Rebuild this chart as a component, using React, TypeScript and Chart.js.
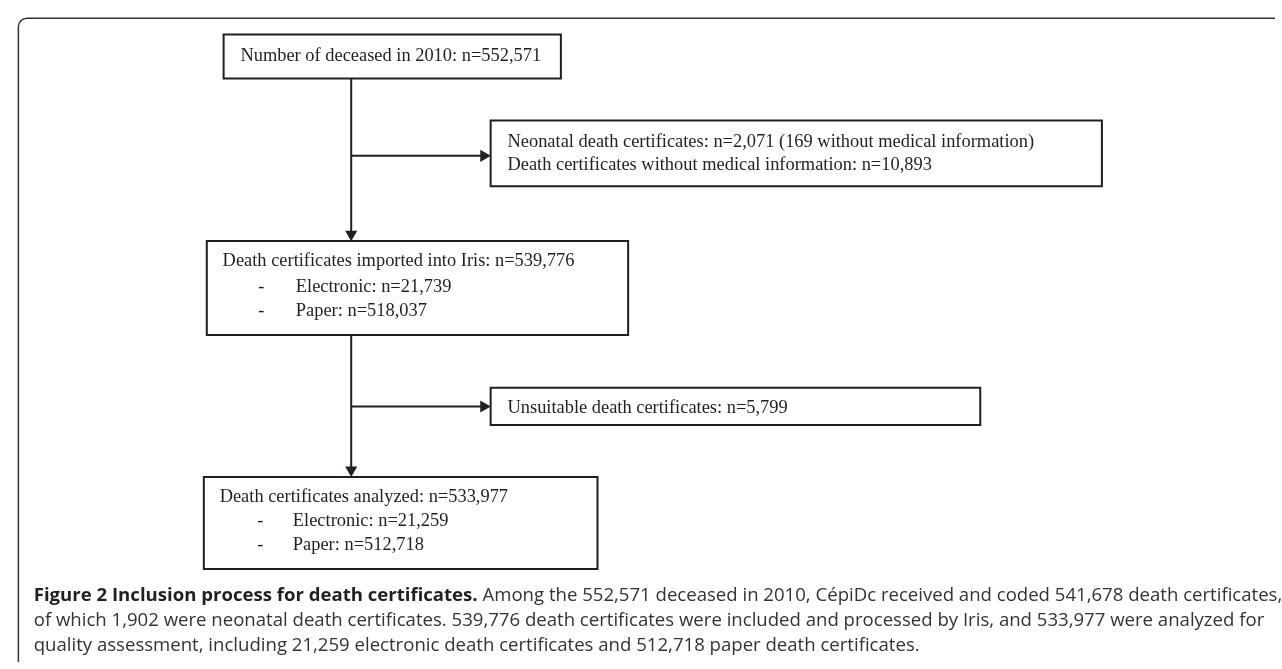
import React, { useEffect, useRef } from 'react';
import { Chart, registerables } from 'chart.js';

Chart.register(...registerables);

// ---------- data ----------
const stepLabels = ['Number of deceased in 2010', 'Death certificates imported into Iris', 'Death certificates analyzed'];
const stepCounts = [552571, 539776, 533977];
const subLabels = ['Electronic', 'Paper'];
const importedSub = [21739, 518037];
const analyzedSub = [21259, 512718];
const neonatalCount = 2071;
const neonatalNoInfo = 169;
const noInfoCount = 10893;
const unsuitableCount = 5799;

const captionBold = 'Figure 2 Inclusion process for death certificates.';
const captionLines = [
  ' Among the 552,571 deceased in 2010, CépiDc received and coded 541,678 death certificates,',
  'of which 1,902 were neonatal death certificates. 539,776 death certificates were included and processed by Iris, and 533,977 were analyzed for',
  'quality assessment, including 21,259 electronic death certificates and 512,718 paper death certificates.',
];

// ---------- layout (page units, mapped through hidden linear scales) ----------
const W = 1282;
const H = 669;
const trunkX = 348;
const boxDeceased = { x0: 219, x1: 560, y0: 28, y1: 73 };
const boxImported = { x0: 202, x1: 628, y0: 239, y1: 335 };
const boxAnalyzed = { x0: 199, x1: 597, y0: 480, y1: 574 };
const boxNeonatal = { x0: 489, x1: 1107, y0: 116, y1: 183 };
const boxUnsuitable = { x0: 489, x1: 984, y0: 389, y1: 427 };
const branchY = [152, 408];
const INK = '#231f20';
const ARROW_R = 7;

const fmt = (n: number) => n.toLocaleString('en-US');

type Rect = { x0: number; x1: number; y0: number; y1: number };
const rectPath = (r: Rect) => [
  { x: r.x0, y: r.y0 },
  { x: r.x1, y: r.y0 },
  { x: r.x1, y: r.y1 },
  { x: r.x0, y: r.y1 },
  { x: r.x0, y: r.y0 },
  { x: r.x1, y: r.y0 },
];

const lineDs = (pts: { x: number; y: number }[]) => ({
  type: 'scatter' as const,
  data: pts,
  showLine: true,
  borderColor: INK,
  borderWidth: 2,
  pointRadius: 0,
  pointHoverRadius: 0,
  fill: false,
  tension: 0,
  borderJoinStyle: 'miter' as const,
});

type TextItem = { text: string; x: number; y: number };

function buildTexts(): TextItem[] {
  const t: TextItem[] = [];
  t.push({ text: `${stepLabels[0]}: n=${fmt(stepCounts[0])}`, x: 236, y: 49 });
  t.push({ text: `Neonatal death certificates: n=${fmt(neonatalCount)} (${neonatalNoInfo} without medical information)`, x: 506, y: 137 });
  t.push({ text: `Death certificates without medical information: n=${fmt(noInfoCount)}`, x: 506, y: 161 });
  t.push({ text: `${stepLabels[1]}: n=${fmt(stepCounts[1])}`, x: 218, y: 259 });
  subLabels.forEach((s, i) => {
    t.push({ text: '-', x: 254, y: 285 + i * 25 });
    t.push({ text: `${s}: n=${fmt(importedSub[i])}`, x: 292, y: 285 + i * 25 });
  });
  t.push({ text: `Unsuitable death certificates: n=${fmt(unsuitableCount)}`, x: 506, y: 409 });
  t.push({ text: `${stepLabels[2]}: n=${fmt(stepCounts[2])}`, x: 215, y: 500 });
  subLabels.forEach((s, i) => {
    t.push({ text: '-', x: 253, y: 524 + i * 25 });
    t.push({ text: `${s}: n=${fmt(analyzedSub[i])}`, x: 289, y: 524 + i * 25 });
  });
  return t;
}

const flowPlugin = {
  id: 'flowText',
  beforeDatasetsDraw(chart: any) {
    const { ctx } = chart;
    const xs = chart.scales.x;
    const ys = chart.scales.y;
    const px = (v: number) => xs.getPixelForValue(v);
    const py = (v: number) => ys.getPixelForValue(v);
    // outer frame (top + left, rounded corner)
    ctx.save();
    ctx.strokeStyle = '#333333';
    ctx.lineWidth = 1.5;
    ctx.beginPath();
    ctx.moveTo(px(11.5), py(H));
    ctx.lineTo(px(11.5), py(20));
    ctx.arcTo(px(11.5), py(11.5), px(20), py(11.5), 8.5);
    ctx.lineTo(px(W), py(11.5));
    ctx.stroke();
    ctx.restore();
  },
  afterDatasetsDraw(chart: any) {
    const { ctx } = chart;
    const xs = chart.scales.x;
    const ys = chart.scales.y;
    const px = (v: number) => xs.getPixelForValue(v);
    const py = (v: number) => ys.getPixelForValue(v);
    ctx.save();
    // box texts
    const serifRef = `${stepLabels[0]}: n=${fmt(stepCounts[0])}`;
    ctx.font = '17px "Liberation Serif"';
    const wRef = ctx.measureText(serifRef).width;
    const serifSize = (17 * 301) / wRef;
    ctx.font = `${serifSize.toFixed(2)}px "Liberation Serif"`;
    ctx.fillStyle = INK;
    ctx.textBaseline = 'middle';
    ctx.textAlign = 'left';
    buildTexts().forEach((it) => ctx.fillText(it.text, px(it.x), py(it.y) + 1));

    // caption
    const fam = '"Open Sans"';
    const base = 16;
    ctx.font = `bold ${base}px ${fam}`;
    const wb = ctx.measureText(captionBold).width;
    ctx.font = `${base}px ${fam}`;
    const wr = ctx.measureText(captionLines[0]).width;
    const size = (base * 1249) / (wb + wr);
    const capY = [601, 627, 652];
    const cx = px(27);
    ctx.textBaseline = 'middle';
    ctx.font = `bold ${size.toFixed(2)}px ${fam}`;
    ctx.fillStyle = INK;
    ctx.fillText(captionBold, cx, py(capY[0]));
    const wbs = ctx.measureText(captionBold).width;
    ctx.font = `${size.toFixed(2)}px ${fam}`;
    ctx.fillStyle = '#333333';
    ctx.fillText(captionLines[0], cx + wbs, py(capY[0]));
    ctx.fillText(captionLines[1], cx, py(capY[1]));
    ctx.fillText(captionLines[2], cx, py(capY[2]));
    ctx.restore();
  },
};

export default function App() {
  const ref = useRef<HTMLCanvasElement>(null);
  useEffect(() => {
    document.body.style.margin = '0';
    const arrowPts = [
      { x: trunkX, y: boxImported.y0 - ARROW_R, r: 180 },
      { x: boxNeonatal.x0 - ARROW_R, y: branchY[0], r: 90 },
      { x: trunkX, y: boxAnalyzed.y0 - ARROW_R, r: 180 },
      { x: boxUnsuitable.x0 - ARROW_R, y: branchY[1], r: 90 },
    ];
    const chart = new Chart(ref.current as HTMLCanvasElement, {
      type: 'scatter',
      data: {
        datasets: [
          lineDs(rectPath(boxDeceased)),
          lineDs(rectPath(boxImported)),
          lineDs(rectPath(boxAnalyzed)),
          lineDs(rectPath(boxNeonatal)),
          lineDs(rectPath(boxUnsuitable)),
          lineDs([{ x: trunkX, y: boxDeceased.y1 }, { x: trunkX, y: boxImported.y0 - ARROW_R }]),
          lineDs([{ x: trunkX, y: branchY[0] }, { x: boxNeonatal.x0 - ARROW_R, y: branchY[0] }]),
          lineDs([{ x: trunkX, y: boxImported.y1 }, { x: trunkX, y: boxAnalyzed.y0 - ARROW_R }]),
          lineDs([{ x: trunkX, y: branchY[1] }, { x: boxUnsuitable.x0 - ARROW_R, y: branchY[1] }]),
          {
            type: 'scatter',
            data: arrowPts.map((p) => ({ x: p.x, y: p.y })),
            pointStyle: 'triangle',
            pointRadius: ARROW_R,
            pointHoverRadius: ARROW_R,
            pointRotation: arrowPts.map((p) => p.r),
            backgroundColor: INK,
            borderColor: INK,
            borderWidth: 0,
            showLine: false,
          } as any,
        ],
      },
      options: {
        animation: false,
        responsive: false,
        maintainAspectRatio: false,
        events: [],
        layout: { padding: 0 },
        plugins: { legend: { display: false }, tooltip: { enabled: false }, title: { display: false } },
        scales: {
          x: { type: 'linear', min: 0, max: W, display: false },
          y: { type: 'linear', min: 0, max: H, reverse: true, display: false },
        },
      },
      plugins: [flowPlugin],
    });
    return () => chart.destroy();
  }, []);
  return (
    <div style={{ position: 'fixed', left: 0, top: 0, width: W, height: H, background: '#fff' }}>
      <canvas ref={ref} width={W} height={H} style={{ display: 'block', width: W, height: H }} />
    </div>
  );
}
